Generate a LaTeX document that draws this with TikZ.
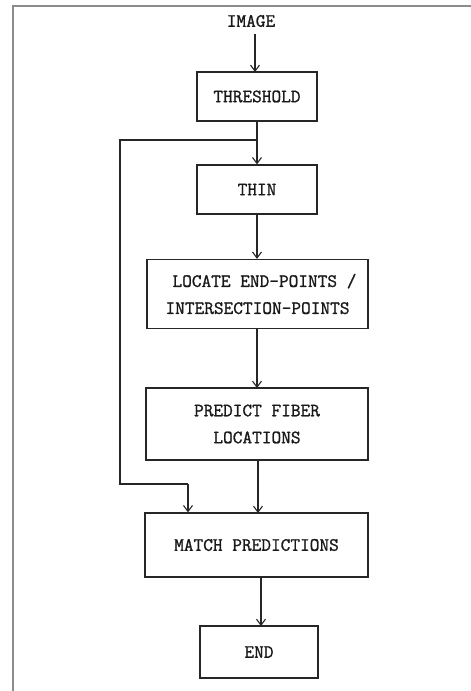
\documentclass[tikz,border=0pt]{standalone}
\usepackage{fontspec}
\setmonofont{Latin Modern Mono}[FakeBold=1.2]
\usetikzlibrary{arrows.meta}
\begin{document}
\begin{tikzpicture}[x=1pt,y=-1pt,
  every node/.style={font=\ttfamily\bfseries\fontsize{18.8pt}{27pt}\selectfont, text=black!90},
  stepbox/.style={draw=black!85, line width=1.2pt, rectangle, inner sep=0pt, align=center},
  flow/.style={draw=black!85, line width=1.2pt, -{Straight Barb[length=6pt,width=9pt,line width=1.1pt]}},
  plain/.style={draw=black!85, line width=1.2pt}]
  \useasboundingbox (0,0) rectangle (471,691);
  % page frame (left and top edges)
  \draw[black!45, line width=1.6pt] (13,691) -- (13,6) -- (471,6);

  \node (img) at (251,21) {IMAGE};
  \node[stepbox, minimum width=120pt, minimum height=49pt] (thr) at (257,96.5) {THRESHOLD};
  \node[stepbox, minimum width=120pt, minimum height=49pt] (thin) at (257,189.5) {THIN};
  \node[stepbox, minimum width=221pt, minimum height=69pt] (loc) at (257.5,294)
    {\hspace*{14pt}LOCATE END-POINTS /\\INTERSECTION-POINTS};
  \node[stepbox, minimum width=222pt, minimum height=72pt] (pred) at (257,424)
    {PREDICT FIBER\\LOCATIONS};
  \node[stepbox, minimum width=223pt, minimum height=64pt] (match) at (256.5,545)
    {MATCH PREDICTIONS};
  \node[stepbox, minimum width=118pt, minimum height=52pt] (end) at (259,652) {END};

  \coordinate (br) at (257,140);
  \coordinate (fbtop) at (120,140);
  \coordinate (fbbot) at (120,484);
  \coordinate (fbin) at (188,484);

  \draw[flow] (img.south -| 255,0) ++(0,3) -- (255,72);
  \draw[flow] (thr.south) -- (thin.north);
  \draw[plain] (br) -- (fbtop) -- (fbbot) -- (fbin);
  \draw[flow] (fbin) -- (fbin |- match.north);
  \draw[flow] (thin.south) -- (thin.south |- loc.north);
  \draw[flow] (loc.south -| 257,0) -- (257,388);
  \draw[flow] (pred.south -| 258,0) -- (258,513);
  \draw[flow] (match.south -| 261,0) -- (261,626);
\end{tikzpicture}
\end{document}
